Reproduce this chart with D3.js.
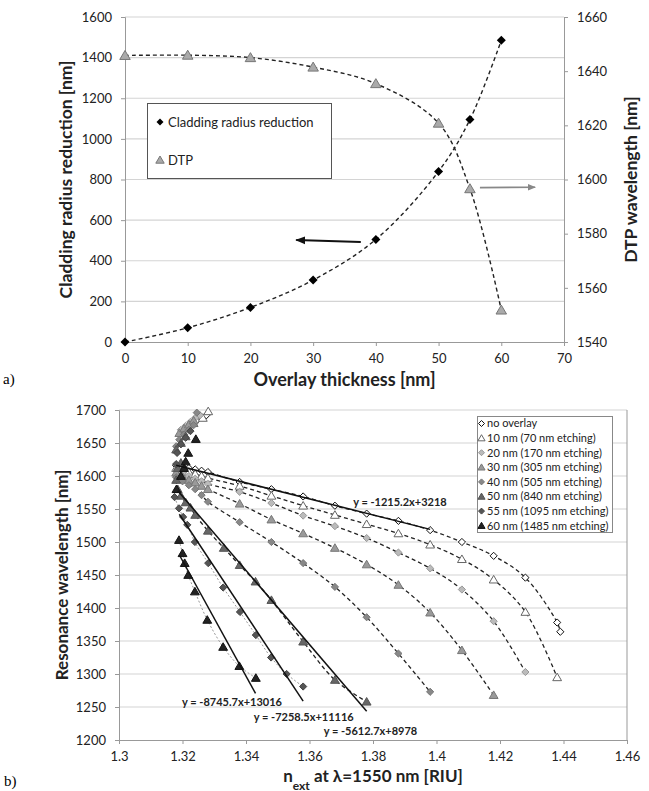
<!DOCTYPE html>
<html>
<head>
<meta charset="utf-8">
<script src="https://cdn.jsdelivr.net/npm/d3@7/dist/d3.min.js"></script>
<style>
body { margin: 0; background: #fff; }
text { font-family: Lato, "Open Sans", sans-serif; }
</style>
</head>
<body>
<svg id="chart" width="649" height="791"></svg>
<script>
// ---------- chart a) data
var thickness = [0, 10, 20, 30, 40, 50, 55, 60];
var claddingReduction = [0, 70, 170, 305, 505, 840, 1095, 1485];
var dtpWavelength = [1645.8, 1645.9, 1645, 1641.5, 1635.4, 1620.8, 1596.6, 1551.8];
var thicknessTicks = [0, 10, 20, 30, 40, 50, 60, 70];
var claddingTicks = [0, 200, 400, 600, 800, 1000, 1200, 1400, 1600];
var dtpTicks = [1540, 1560, 1580, 1600, 1620, 1640, 1660];

// ---------- chart b) data  [n_ext, resonance wavelength]
var seriesNames = ["no overlay", "10 nm (70 nm etching)", "20 nm (170 nm etching)", "30 nm (305 nm etching)",
  "40 nm (505 nm etching)", "50 nm (840 nm etching)", "55 nm (1095 nm etching)", "60 nm (1485 nm etching)"];

var noOverlay = [[1.318,1616],[1.320,1614],[1.322,1612],[1.324,1610],[1.326,1608],[1.328,1606],[1.338,1591],[1.348,1580],
  [1.358,1569],[1.368,1555],[1.378,1543],[1.388,1532],[1.398,1518],[1.408,1500],[1.418,1479],[1.428,1446],[1.438,1378],[1.439,1364]];
var nm10 = [[1.318,1612],[1.320,1609],[1.322,1606],[1.324,1603],[1.326,1600],[1.328,1597],[1.338,1585],[1.348,1570],[1.358,1555],
  [1.368,1541],[1.378,1527],[1.388,1513],[1.398,1496],[1.408,1474],[1.418,1443],[1.428,1394],[1.438,1295]];
var nm20 = [[1.318,1608],[1.320,1604],[1.322,1600],[1.324,1596],[1.326,1592],[1.328,1588],[1.338,1576],[1.348,1559],[1.358,1540],
  [1.368,1524],[1.378,1506],[1.388,1484],[1.398,1460],[1.408,1428],[1.418,1380],[1.428,1303]];
var nm30 = [[1.318,1605],[1.320,1599],[1.322,1594],[1.324,1590],[1.326,1585],[1.328,1580],[1.338,1558],[1.348,1534],[1.358,1513],
  [1.368,1491],[1.378,1466],[1.388,1435],[1.398,1393],[1.408,1336],[1.418,1268]];
var nm40 = [[1.318,1598],[1.320,1592],[1.322,1586],[1.324,1580],[1.326,1571],[1.328,1561],[1.338,1530],[1.348,1500],[1.358,1468],
  [1.368,1432],[1.378,1386],[1.388,1331],[1.398,1273]];
var nm50 = [[1.318,1594],[1.3185,1580],[1.3195,1570],[1.321,1560],[1.3225,1552],[1.324,1541],[1.328,1517],[1.333,1491],[1.338,1465],
  [1.343,1440],[1.348,1412],[1.358,1349],[1.368,1291],[1.378,1258]];
var nm55 = [[1.3175,1568],[1.3189,1551],[1.3202,1538],[1.3215,1526],[1.3239,1500],[1.3281,1468],[1.3328,1431],[1.3381,1394],
  [1.3431,1359],[1.3479,1325],[1.3528,1300],[1.358,1281]];
var nm60 = [[1.3189,1503],[1.320,1483],[1.3207,1468],[1.3218,1450],[1.3239,1425],[1.3278,1382],[1.3328,1341],[1.3379,1312],[1.3431,1294]];

// second resonance branch near the turning point (markers only)
var noOverlayUpper = [[1.3228,1679],[1.3244,1684],[1.326,1689],[1.3275,1692]];
var nm10Upper = [[1.3235,1680],[1.3264,1688],[1.3281,1698]];
var nm20Upper = [[1.3195,1670],[1.321,1676],[1.3225,1682],[1.324,1688],[1.3255,1692]];
var nm30Upper = [[1.319,1665],[1.3205,1672],[1.322,1678],[1.3235,1684]];
var nm40Upper = [[1.318,1645],[1.319,1655],[1.3205,1663],[1.322,1670],[1.3235,1677],[1.3245,1696]];
var nm50Upper = [[1.318,1640],[1.3195,1650],[1.321,1660],[1.3185,1612],[1.3195,1620]];
var nm55Upper = [[1.3183,1635],[1.3195,1648],[1.321,1658],[1.3225,1668],[1.318,1618]];
var nm60Upper = [[1.3181,1580],[1.3195,1600],[1.3205,1612],[1.321,1622],[1.3218,1635],[1.3242,1656]];

// linear trendlines y = a*x + b
var trendSlope = [-1215.2, -5612.7, -7258.5, -8745.7];
var trendIntercept = [3218, 8978, 11116, 13016];
var trendFrom = [1.318, 1.3185, 1.319, 1.3191];
var trendTo = [1.398, 1.378, 1.358, 1.343];
var trendLabels = ["y = -1215.2x+3218", "y = -5612.7x+8978", "y = -7258.5x+11116", "y = -8745.7x+13016"];

var nTicks = [1.3, 1.32, 1.34, 1.36, 1.38, 1.4, 1.42, 1.44, 1.46];
var wlTicks = [1200, 1250, 1300, 1350, 1400, 1450, 1500, 1550, 1600, 1650, 1700];

var lower = [noOverlay, nm10, nm20, nm30, nm40, nm50, nm55, nm60];
var upper = [noOverlayUpper, nm10Upper, nm20Upper, nm30Upper, nm40Upper, nm50Upper, nm55Upper, nm60Upper];

// marker styles
var seriesStyle = [
  {shape: "diamond", fill: "#fff", stroke: "#111", line: "dash"},
  {shape: "triangle", fill: "#fff", stroke: "#666", line: "dash"},
  {shape: "diamond", fill: "#bbb", stroke: "#999", line: "dash"},
  {shape: "triangle", fill: "#9a9a9a", stroke: "#777", line: "dash"},
  {shape: "diamond", fill: "#888", stroke: "#777", line: "dash"},
  {shape: "triangle", fill: "#666", stroke: "#555", line: "dash"},
  {shape: "diamond", fill: "#555", stroke: "#444", line: "dot"},
  {shape: "triangle", fill: "#222", stroke: "#111", line: "dot"}
];

function markerPath(shape, r) {
  if (shape == "diamond") return "M0," + (-r) + "L" + r + ",0L0," + r + "L" + (-r) + ",0Z";
  return "M0," + (-r) + "L" + (r * 1.05) + "," + (r * 0.8) + "L" + (-r * 1.05) + "," + (r * 0.8) + "Z";
}

var plain = function(d) { return String(d); };

var svg = d3.select("#chart");
svg.append("rect").attr("width", 649).attr("height", 791).attr("fill", "#fff");

var defs = svg.append("defs");
["#111", "#888"].forEach(function(c, i) {
  defs.append("marker").attr("id", "arrow" + i)
    .attr("viewBox", "0 0 10 10").attr("refX", 9).attr("refY", 5)
    .attr("markerWidth", 5).attr("markerHeight", 5).attr("orient", "auto")
    .append("path").attr("d", "M0,1L10,5L0,9Z").attr("fill", c);
});

function styleAxis(g) {
  g.select(".domain").attr("stroke", "#999");
  g.selectAll(".tick line").attr("stroke", "#999");
  g.selectAll(".tick text").attr("fill", "#222").style("font-family", "Lato, sans-serif");
}

// ================= chart a)
var xA = d3.scaleLinear().domain([0, 70]).range([125, 564]);
var yA = d3.scaleLinear().domain([0, 1600]).range([342, 17]);
var yA2 = d3.scaleLinear().domain([1540, 1660]).range([342, 17]);

var gA = svg.append("g");

// gridlines
gA.selectAll("line.grid").data(claddingTicks.slice(1)).enter().append("line")
  .attr("x1", xA(0)).attr("x2", xA(70))
  .attr("y1", function(d) { return yA(d); }).attr("y2", function(d) { return yA(d); })
  .attr("stroke", "#d4d4d4").attr("stroke-width", 1.2);

gA.append("g").attr("transform", "translate(0," + yA(0) + ")")
  .call(d3.axisBottom(xA).tickValues(thicknessTicks).tickSize(4).tickPadding(8).tickFormat(plain))
  .call(styleAxis).selectAll("text").style("font-size", "13px");
gA.append("g").attr("transform", "translate(" + xA(0) + ",0)")
  .call(d3.axisLeft(yA).tickValues(claddingTicks).tickSize(4).tickPadding(9).tickFormat(plain))
  .call(styleAxis).selectAll("text").style("font-size", "13px");
gA.append("g").attr("transform", "translate(" + xA(70) + ",0)")
  .call(d3.axisRight(yA2).tickValues(dtpTicks).tickSize(4).tickPadding(9).tickFormat(plain))
  .call(styleAxis).selectAll("text").style("font-size", "13px");

// dashed trend curves
var cladLine = d3.line().curve(d3.curveCatmullRom)
  .x(function(d, i) { return xA(thickness[i]); }).y(function(d) { return yA(d); });
var dtpLine = d3.line().curve(d3.curveCatmullRom)
  .x(function(d, i) { return xA(thickness[i]); }).y(function(d) { return yA2(d); });

gA.append("path").attr("d", dtpLine(dtpWavelength)).attr("fill", "none")
  .attr("stroke", "#222").attr("stroke-width", 1.4).attr("stroke-dasharray", "4,3");
gA.append("path").attr("d", cladLine(claddingReduction)).attr("fill", "none")
  .attr("stroke", "#222").attr("stroke-width", 1.4).attr("stroke-dasharray", "4,3");

// markers
gA.selectAll("path.dtp").data(dtpWavelength).enter().append("path")
  .attr("d", markerPath("triangle", 5))
  .attr("transform", function(d, i) { return "translate(" + xA(thickness[i]) + "," + yA2(d) + ")"; })
  .attr("fill", "#aaa").attr("stroke", "#777").attr("stroke-width", 1);
gA.selectAll("path.clad").data(claddingReduction).enter().append("path")
  .attr("d", markerPath("diamond", 4.5))
  .attr("transform", function(d, i) { return "translate(" + xA(thickness[i]) + "," + yA(d) + ")"; })
  .attr("fill", "#000");

// arrows
gA.append("line").attr("x1", xA(37.6)).attr("y1", yA(492)).attr("x2", xA(27.3)).attr("y2", yA(502))
  .attr("stroke", "#111").attr("stroke-width", 2).attr("marker-end", "url(#arrow0)");
gA.append("line").attr("x1", xA(56.6)).attr("y1", yA(760)).attr("x2", xA(65.4)).attr("y2", yA(762))
  .attr("stroke", "#888").attr("stroke-width", 1.6).attr("marker-end", "url(#arrow1)");

// legend a)
var legA = gA.append("g");
legA.append("rect").attr("x", 147.5).attr("y", 103.5).attr("width", 184).attr("height", 75)
  .attr("fill", "#fff").attr("stroke", "#555").attr("stroke-width", 1);
legA.append("path").attr("d", markerPath("diamond", 3.5)).attr("transform", "translate(160,122)").attr("fill", "#000");
legA.append("text").attr("x", 168).attr("y", 122).attr("dy", "0.35em").style("font-size", "13px").attr("fill", "#222")
  .text("Cladding radius reduction");
legA.append("path").attr("d", markerPath("triangle", 4)).attr("transform", "translate(160,160)")
  .attr("fill", "#aaa").attr("stroke", "#777");
legA.append("text").attr("x", 168).attr("y", 160).attr("dy", "0.35em").style("font-size", "13px").attr("fill", "#222")
  .text("DTP");

// axis titles a)
gA.append("text").attr("transform", "translate(66," + ((yA(0) + yA(1600)) / 2) + ") rotate(-90)")
  .attr("text-anchor", "middle").attr("dy", "0.35em").style("font-size", "17.5px").style("font-weight", "bold")
  .attr("fill", "#222").text("Cladding radius reduction [nm]");
gA.append("text").attr("transform", "translate(631," + ((yA(0) + yA(1600)) / 2) + ") rotate(-90)")
  .attr("text-anchor", "middle").attr("dy", "0.35em").style("font-size", "17.5px").style("font-weight", "bold")
  .attr("fill", "#222").text("DTP wavelength [nm]");
gA.append("text").attr("x", (xA(0) + xA(70)) / 2).attr("y", 380).attr("text-anchor", "middle").attr("dy", "0.35em")
  .style("font-size", "18px").style("font-weight", "bold").attr("fill", "#222").text("Overlay thickness [nm]");
svg.append("text").attr("x", 3).attr("y", 384).style("font-family", "'Liberation Serif', serif").style("font-size", "15px")
  .text("a)");

// ================= chart b)
var xB = d3.scaleLinear().domain([1.3, 1.46]).range([119, 627]);
var yB = d3.scaleLinear().domain([1200, 1700]).range([740, 410]);

var gB = svg.append("g");

gB.selectAll("line.grid").data(wlTicks.slice(1)).enter().append("line")
  .attr("x1", xB(1.3)).attr("x2", xB(1.46))
  .attr("y1", function(d) { return yB(d); }).attr("y2", function(d) { return yB(d); })
  .attr("stroke", "#d4d4d4").attr("stroke-width", 1.2);
gB.append("line").attr("x1", xB(1.46)).attr("x2", xB(1.46)).attr("y1", yB(1700)).attr("y2", yB(1200))
  .attr("stroke", "#999");

gB.append("g").attr("transform", "translate(0," + yB(1200) + ")")
  .call(d3.axisBottom(xB).tickValues(nTicks).tickSize(4).tickPadding(8).tickFormat(function(d) { return String(+d.toFixed(2)); }))
  .call(styleAxis).selectAll("text").style("font-size", "13px");
gB.append("g").attr("transform", "translate(" + xB(1.3) + ",0)")
  .call(d3.axisLeft(yB).tickValues(wlTicks).tickSize(4).tickPadding(9).tickFormat(plain))
  .call(styleAxis).selectAll("text").style("font-size", "13px");

// connecting curves
var nLine = d3.line().curve(d3.curveCatmullRom)
  .x(function(d) { return xB(d[0]); }).y(function(d) { return yB(d[1]); });
gB.selectAll("path.series").data(lower).enter().append("path")
  .attr("d", function(d) { return nLine(d); })
  .attr("fill", "none")
  .attr("stroke", function(d, i) { return seriesStyle[i].line == "dash" ? "#222" : "#999"; })
  .attr("stroke-width", function(d, i) { return seriesStyle[i].line == "dash" ? 1.3 : 1; })
  .attr("stroke-dasharray", function(d, i) { return seriesStyle[i].line == "dash" ? "4,3" : "2,2"; });

// markers, darkest series last
lower.forEach(function(pts, i) {
  var st = seriesStyle[i];
  var r = st.shape == "diamond" ? 3.6 : 4.2;
  gB.append("g").selectAll("path").data(pts.concat(upper[i])).enter().append("path")
    .attr("d", markerPath(st.shape, r))
    .attr("transform", function(d) { return "translate(" + xB(d[0]) + "," + yB(d[1]) + ")"; })
    .attr("fill", st.fill).attr("stroke", st.stroke).attr("stroke-width", 1);
});

// linear trendlines
trendSlope.forEach(function(a, i) {
  gB.append("line")
    .attr("x1", xB(trendFrom[i])).attr("y1", yB(a * trendFrom[i] + trendIntercept[i]))
    .attr("x2", xB(trendTo[i])).attr("y2", yB(a * trendTo[i] + trendIntercept[i]))
    .attr("stroke", "#111").attr("stroke-width", 1.5);
});

// trendline equations
var eqPos = [[1.3885, 1561], [1.3792, 1213], [1.3582, 1234], [1.3356, 1257]];
trendLabels.forEach(function(t, i) {
  gB.append("text").attr("x", xB(eqPos[i][0])).attr("y", yB(eqPos[i][1]))
    .attr("text-anchor", "middle").attr("dy", "0.35em")
    .style("font-size", "11px").style("font-weight", "bold").attr("fill", "#222").text(t);
});

// legend b)
var legB = gB.append("g");
legB.append("rect").attr("x", 477.5).attr("y", 416.5).attr("width", 135).attr("height", 116)
  .attr("fill", "#fff").attr("stroke", "#888").attr("stroke-width", 1);
seriesNames.forEach(function(name, i) {
  var st = seriesStyle[i];
  var yy = 423.5 + i * 14.6;
  legB.append("path").attr("d", markerPath(st.shape, st.shape == "diamond" ? 3 : 3.4))
    .attr("transform", "translate(481.5," + yy + ")")
    .attr("fill", st.fill).attr("stroke", st.stroke).attr("stroke-width", 1);
  legB.append("text").attr("x", 487).attr("y", yy).attr("dy", "0.35em")
    .style("font-size", "11px").attr("fill", "#222").text(name);
});

// axis titles b)
gB.append("text").attr("transform", "translate(62," + ((yB(1200) + yB(1700)) / 2) + ") rotate(-90)")
  .attr("text-anchor", "middle").attr("dy", "0.35em").style("font-size", "17px").style("font-weight", "bold")
  .attr("fill", "#222").text("Resonance wavelength [nm]");
var xt = gB.append("text").attr("x", (xB(1.3) + xB(1.46)) / 2).attr("y", 776).attr("text-anchor", "middle")
  .attr("dy", "0.35em").style("font-size", "17px").style("font-weight", "bold").attr("fill", "#222");
xt.append("tspan").text("n");
xt.append("tspan").attr("baseline-shift", "sub").style("font-size", "12px").text("ext");
xt.append("tspan").text(" at \u03bb=1550 nm [RIU]");
svg.append("text").attr("x", 4).attr("y", 786).style("font-family", "'Liberation Serif', serif").style("font-size", "15px")
  .text("b)");
</script>
</body>
</html>
